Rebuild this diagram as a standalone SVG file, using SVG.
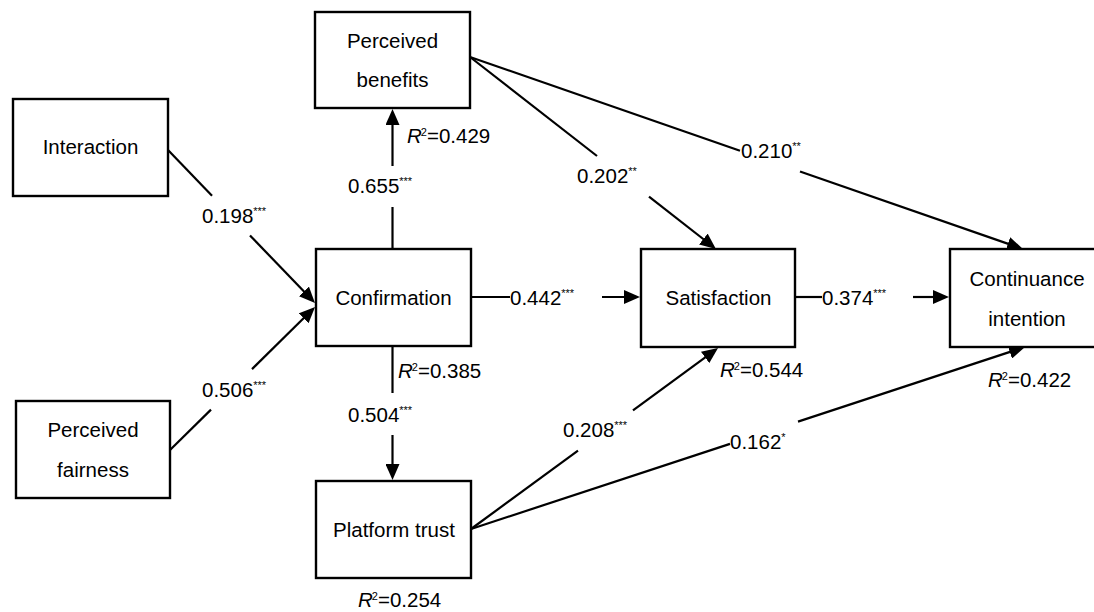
<svg xmlns="http://www.w3.org/2000/svg" width="1094" height="612" viewBox="0 0 1094 612">
  <style>
    .box { fill: #ffffff; stroke: #000000; stroke-width: 2.4; }
    .node text, text { font-family: "Liberation Sans", Arial, sans-serif; font-size: 20.5px; fill: #000000; }
    .name { text-anchor: middle; }
    .edge { fill: none; stroke: #000000; stroke-width: 2.2; }
    .sup { font-size: 11px; }
    .it { font-style: italic; }
  </style>
  <defs>
    <marker id="arrow" markerUnits="userSpaceOnUse" markerWidth="16" markerHeight="14" refX="12" refY="7" orient="auto">
      <path d="M0,0 L16,7 L0,14 z" fill="#000000"/>
    </marker>
  </defs>

  <rect width="1094" height="612" fill="#ffffff"/>

  <!-- path connectors, each split around its coefficient label -->
  <g id="connectors">
    <!-- Interaction -> Confirmation -->
    <line class="edge" x1="168" y1="150" x2="212" y2="195.8"/>
    <line class="edge" x1="250" y1="235.4" x2="312.2" y2="300.1" marker-end="url(#arrow)"/>
    <!-- Perceived fairness -> Confirmation -->
    <line class="edge" x1="170" y1="450" x2="211" y2="409.6"/>
    <line class="edge" x1="252" y1="369.1" x2="312.2" y2="309.8" marker-end="url(#arrow)"/>
    <!-- Confirmation -> Perceived benefits -->
    <line class="edge" x1="392.5" y1="249" x2="392.5" y2="207"/>
    <line class="edge" x1="392.5" y1="166" x2="392.5" y2="113" marker-end="url(#arrow)"/>
    <!-- Confirmation -> Platform trust -->
    <line class="edge" x1="392.5" y1="346" x2="392.5" y2="393"/>
    <line class="edge" x1="392.5" y1="435" x2="392.5" y2="476" marker-end="url(#arrow)"/>
    <!-- Confirmation -> Satisfaction -->
    <line class="edge" x1="471" y1="297" x2="510" y2="297"/>
    <line class="edge" x1="602" y1="297" x2="636" y2="297" marker-end="url(#arrow)"/>
    <!-- Satisfaction -> Continuance intention -->
    <line class="edge" x1="795" y1="297" x2="822" y2="297"/>
    <line class="edge" x1="913" y1="297" x2="945" y2="297" marker-end="url(#arrow)"/>
    <!-- Perceived benefits -> Satisfaction -->
    <line class="edge" x1="470" y1="57" x2="597" y2="156"/>
    <line class="edge" x1="649" y1="196.6" x2="712.8" y2="246.5" marker-end="url(#arrow)"/>
    <!-- Perceived benefits -> Continuance intention -->
    <line class="edge" x1="470" y1="57" x2="740" y2="150.7"/>
    <line class="edge" x1="800" y1="171.5" x2="1019.2" y2="247.7" marker-end="url(#arrow)"/>
    <!-- Platform trust -> Satisfaction -->
    <line class="edge" x1="471" y1="529" x2="578" y2="450.6"/>
    <line class="edge" x1="633" y1="410.3" x2="714.8" y2="350.4" marker-end="url(#arrow)"/>
    <!-- Platform trust -> Continuance intention -->
    <line class="edge" x1="471" y1="529" x2="730" y2="443.9"/>
    <line class="edge" x1="798" y1="421.6" x2="1021.2" y2="348.2" marker-end="url(#arrow)"/>
  </g>

  <!-- path coefficients -->
  <g id="coefficients">
    <text x="202" y="223">0.198<tspan class="sup" dy="-8.5">***</tspan></text>
    <text x="202" y="397">0.506<tspan class="sup" dy="-8.5">***</tspan></text>
    <text x="348" y="193">0.655<tspan class="sup" dy="-8.5">***</tspan></text>
    <text x="348" y="422">0.504<tspan class="sup" dy="-8.5">***</tspan></text>
    <text x="510" y="305">0.442<tspan class="sup" dy="-8.5">***</tspan></text>
    <text x="822" y="305">0.374<tspan class="sup" dy="-8.5">***</tspan></text>
    <text x="577" y="183">0.202<tspan class="sup" dy="-8.5">**</tspan></text>
    <text x="741" y="158">0.210<tspan class="sup" dy="-8.5">**</tspan></text>
    <text x="563" y="437">0.208<tspan class="sup" dy="-8.5">***</tspan></text>
    <text x="730" y="449">0.162<tspan class="sup" dy="-8.5">*</tspan></text>
  </g>

  <!-- explained variance -->
  <g id="r-squared">
    <text x="407" y="143"><tspan class="it">R</tspan><tspan class="sup" dx="-1" dy="-7">2</tspan><tspan dy="7">=0.429</tspan></text>
    <text x="398" y="378"><tspan class="it">R</tspan><tspan class="sup" dx="-1" dy="-7">2</tspan><tspan dy="7">=0.385</tspan></text>
    <text x="720" y="377"><tspan class="it">R</tspan><tspan class="sup" dx="-1" dy="-7">2</tspan><tspan dy="7">=0.544</tspan></text>
    <text x="988" y="387"><tspan class="it">R</tspan><tspan class="sup" dx="-1" dy="-7">2</tspan><tspan dy="7">=0.422</tspan></text>
    <text x="358" y="607"><tspan class="it">R</tspan><tspan class="sup" dx="-1" dy="-7">2</tspan><tspan dy="7">=0.254</tspan></text>
  </g>

  <!-- constructs -->
  <g id="perceived-benefits" class="node">
    <rect class="box" x="315" y="12" width="155" height="96"/>
    <text class="name" x="392.5" y="48">Perceived</text>
    <text class="name" x="392.5" y="87">benefits</text>
  </g>
  <g id="interaction" class="node">
    <rect class="box" x="13" y="99" width="155" height="97"/>
    <text class="name" x="90.5" y="154">Interaction</text>
  </g>
  <g id="confirmation" class="node">
    <rect class="box" x="316" y="249" width="155" height="97"/>
    <text class="name" x="393.5" y="305">Confirmation</text>
  </g>
  <g id="perceived-fairness" class="node">
    <rect class="box" x="16" y="401" width="154" height="97"/>
    <text class="name" x="93" y="437">Perceived</text>
    <text class="name" x="93" y="477">fairness</text>
  </g>
  <g id="platform-trust" class="node">
    <rect class="box" x="316" y="481" width="155" height="97"/>
    <text class="name" x="394" y="537">Platform trust</text>
  </g>
  <g id="satisfaction" class="node">
    <rect class="box" x="641" y="249" width="154" height="98"/>
    <text class="name" x="718.5" y="305">Satisfaction</text>
  </g>
  <g id="continuance-intention" class="node">
    <rect class="box" x="950" y="249" width="154" height="98"/>
    <text class="name" x="1027" y="286">Continuance</text>
    <text class="name" x="1027" y="326">intention</text>
  </g>
</svg>
